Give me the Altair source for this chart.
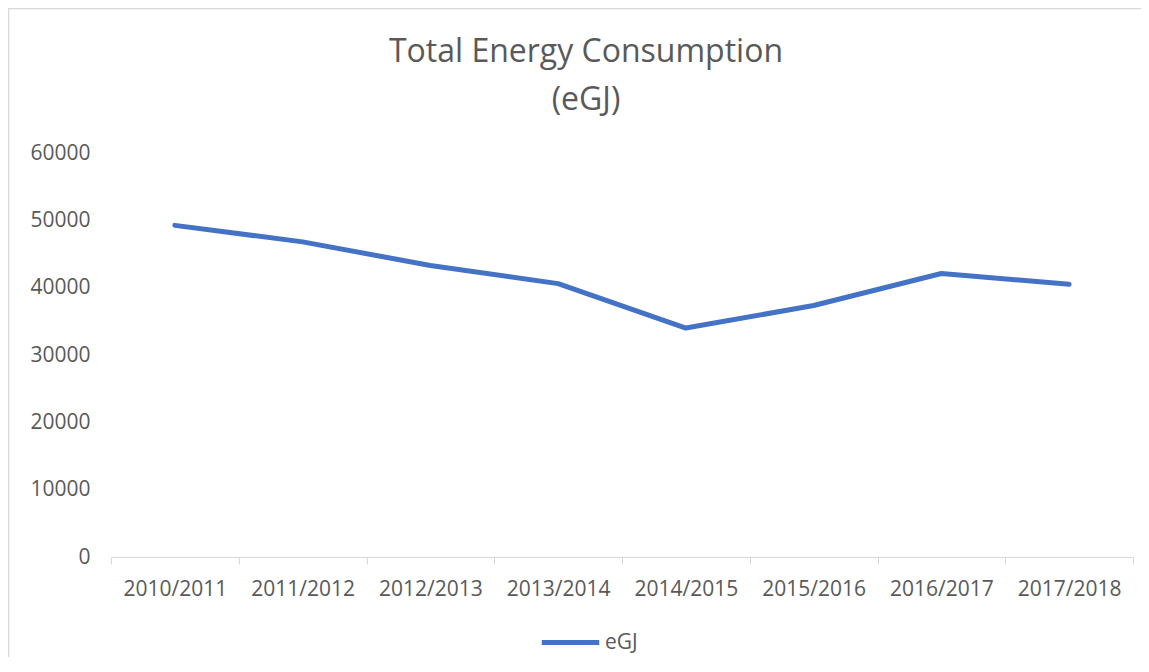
import altair as alt
import pandas as pd

years = ["2010/2011", "2011/2012", "2012/2013", "2013/2014",
         "2014/2015", "2015/2016", "2016/2017", "2017/2018"]
egj = [49250, 46800, 43300, 40600, 34000, 37350, 42100, 40500]
series_name = "eGJ"
title_lines = ["Total Energy Consumption", "(eGJ)"]

df = pd.DataFrame({"year": years, "value": egj, "series": [series_name] * len(years)})

FONT = "Open Sans"
GREY = "#595959"
GRID = "#d9d9d9"

line = alt.Chart(df).mark_line(strokeWidth=5, strokeCap="round", strokeJoin="round").encode(
    x=alt.X("year:N", sort=years, bandPosition=0.5,
            scale=alt.Scale(type="band", paddingInner=0, paddingOuter=0),
            axis=alt.Axis(title=None, labelAngle=0, tickBand="extent", ticks=True, tickSize=7,
                          tickColor=GRID, domainColor=GRID, grid=False,
                          labelFont=FONT, labelFontSize=21, labelColor=GREY, labelPadding=14)),
    y=alt.Y("value:Q", scale=alt.Scale(domain=[0, 60000]),
            axis=alt.Axis(title=None, values=[0, 10000, 20000, 30000, 40000, 50000, 60000],
                          format="d", domain=False, ticks=False, tickSize=0,
                          gridColor=GRID, gridWidth=1,
                          labelFont=FONT, labelFontSize=21, labelColor=GREY, labelPadding=21)),
    color=alt.Color("series:N", scale=alt.Scale(range=["#4472C4"]),
                    legend=alt.Legend(title=None, orient="none", legendX=428, legendY=458,
                                      symbolType="stroke", symbolSize=3300, symbolStrokeWidth=5,
                                      labelFont=FONT, labelFontSize=21, labelColor=GREY,
                                      labelOffset=3)),
)

title_df = pd.DataFrame({"text": title_lines, "row": [0, 1]})
title = alt.Chart(title_df).mark_text(
    font=FONT, fontSize=32, color=GREY, align="center", baseline="alphabetic").encode(
    text="text:N",
    x=alt.value(475),
    y=alt.Y("row:Q", scale=alt.Scale(domain=[0, 1], range=[-91.5, -43.5]), axis=None),
)

border = alt.Chart(pd.DataFrame({"a": [0]})).mark_rect(
    fillOpacity=0, stroke=GRID, strokeWidth=1.5).encode(
    x=alt.value(-102.5), x2=alt.value(1200), y=alt.value(-144.5), y2=alt.value(700))

chart = alt.layer(border, title, line).resolve_scale(y="independent").properties(
    width=1022, height=404,
    autosize=alt.AutoSizeParams(type="none"),
    padding={"left": 103, "top": 145, "right": 8, "bottom": 100},
).configure_view(stroke=None)

chart.save("out.html", embed_options={"renderer": "svg", "actions": False})
